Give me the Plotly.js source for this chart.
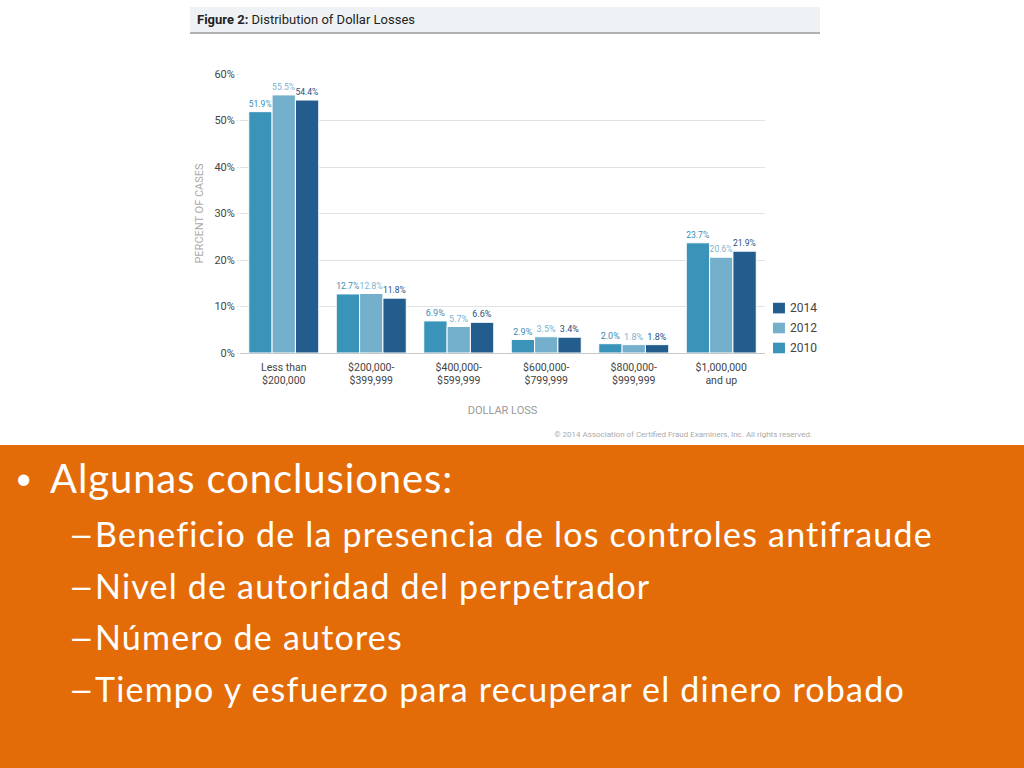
<!DOCTYPE html>
<html>
<head>
<meta charset="utf-8">
<script src="https://cdn.plot.ly/plotly-3.0.1.min.js"></script>
<style>
  html, body { margin:0; padding:0; width:1024px; height:768px; overflow:hidden; background:#fff; }
  #titlebar { position:absolute; left:190px; top:7px; width:630px; height:25px; background:#eef2f5; border-bottom:2px solid #b0b0b0; font-family:"Roboto",sans-serif; font-size:13px; color:#222; line-height:25px; }
  #titlebar span { margin-left:7px; }
  #chart { position:absolute; left:190px; top:35px; width:632px; height:410px; }
  #copy { position:absolute; left:190px; top:430px; width:622px; text-align:right; font-family:"Roboto",sans-serif; font-size:8px; color:#aaa; }
  #orange { position:absolute; left:0; top:445px; width:1024px; height:323px; background:#E36C09; color:#fff; font-family:"Lato","Open Sans",sans-serif; }
  .l1 { position:absolute; left:15px; top:9px; font-size:40px; letter-spacing:0.9px; white-space:nowrap; }
  .l1 .b { display:inline-block; width:35px; font-size:30px; vertical-align:4px; }
  .l2 { position:absolute; left:72px; font-size:34px; letter-spacing:1.2px; white-space:nowrap; }
  .l2 .d { display:inline-block; width:23px; overflow:visible; }
  .l2 .d i { display:inline-block; font-style:normal; letter-spacing:0; margin-left:-4px; transform:scaleX(1.35); transform-origin:left center; }
</style>
</head>
<body>
<div id="titlebar"><span><b>Figure 2:</b> Distribution of Dollar Losses</span></div>
<div id="chart"></div>
<div id="copy">© 2014 Association of Certified Fraud Examiners, Inc. All rights reserved.</div>
<div id="orange">
  <div class="l1"><span class="b">•</span>Algunas conclusiones:</div>
  <div class="l2" style="top:68px"><span class="d"><i>–</i></span>Beneficio de la presencia de los controles antifraude</div>
  <div class="l2" style="top:120px"><span class="d"><i>–</i></span>Nivel de autoridad del perpetrador</div>
  <div class="l2" style="top:171px"><span class="d"><i>–</i></span>Número de autores</div>
  <div class="l2" style="top:223px"><span class="d"><i>–</i></span>Tiempo y esfuerzo para recuperar el dinero robado</div>
</div>
<script>
const categories = ["Less than<br>$200,000", "$200,000-<br>$399,999", "$400,000-<br>$599,999", "$600,000-<br>$799,999", "$800,000-<br>$999,999", "$1,000,000<br>and up"];
const years = ["2010", "2012", "2014"];
const values2010 = [51.9, 12.7, 6.9, 2.9, 2.0, 23.7];
const values2012 = [55.5, 12.8, 5.7, 3.5, 1.8, 20.6];
const values2014 = [54.4, 11.8, 6.6, 3.4, 1.8, 21.9];
const yTicks = [0, 10, 20, 30, 40, 50, 60];
const yTickLabels = ["0%", "10%", "20%", "30%", "40%", "50%", "60%"];

const colors = ["#3A93B9", "#74AFCB", "#235D8E"];
const textColors = ["#3A8DB3", "#7AB3CE", "#1F4F7E"];
const series = [values2010, values2012, values2014];
const font = "Roboto, sans-serif";

const data = series.map((vals, i) => ({
  type: "bar",
  name: years[i],
  x: categories,
  y: vals,
  marker: { color: colors[i], line: { color: "#fff", width: 1 } },
  text: vals.map(v => v.toFixed(1) + "%"),
  textposition: "outside",
  cliponaxis: false,
  textfont: { family: font, size: 9, color: textColors[i] },
  hoverinfo: "none"
}));

// manual legend (2014 on top), in paper coordinates to the right of the plot
const legendY = [0.018, 0.0896, 0.161];
const shapes = [];
const annotations = [];
years.forEach((yr, i) => {
  shapes.push({ type: "rect", xref: "paper", yref: "paper", x0: 1.0152, x1: 1.038,
    y0: legendY[i] - 0.019, y1: legendY[i] + 0.019, fillcolor: colors[i], line: { width: 0 } });
  annotations.push({ xref: "paper", yref: "paper", x: 1.0438, y: legendY[i], xanchor: "left", yanchor: "middle",
    text: yr, showarrow: false, font: { family: font, size: 12, color: "#444" } });
});

const layout = {
  width: 632, height: 410,
  margin: { l: 50, r: 57, t: 39, b: 92 },
  paper_bgcolor: "#fff", plot_bgcolor: "#fff",
  barmode: "group", bargap: 0.2, bargroupgap: 0.0,
  showlegend: false,
  shapes: shapes,
  annotations: annotations,
  xaxis: {
    tickfont: { family: font, size: 10.5, color: "#444" },
    ticklabelstandoff: 6,
    title: { text: "DOLLAR LOSS", font: { family: font, size: 11, color: "#999" }, standoff: 20 },
    showline: false, ticks: "", fixedrange: true, automargin: false
  },
  yaxis: {
    range: [0, 60], tickvals: yTicks, ticktext: yTickLabels,
    tickfont: { family: font, size: 11, color: "#444" },
    title: { text: "PERCENT OF CASES", font: { family: font, size: 11, color: "#aaa" }, standoff: 8 },
    gridcolor: "#e3e3e3", gridwidth: 1, zeroline: true, zerolinecolor: "#c8c8c8", zerolinewidth: 1,
    ticks: "outside", ticklen: 2, tickcolor: "#e3e3e3", fixedrange: true, automargin: false
  },
  font: { family: font }
};
Plotly.newPlot("chart", data, layout, { displayModeBar: false, staticPlot: true });
</script>
</body>
</html>
